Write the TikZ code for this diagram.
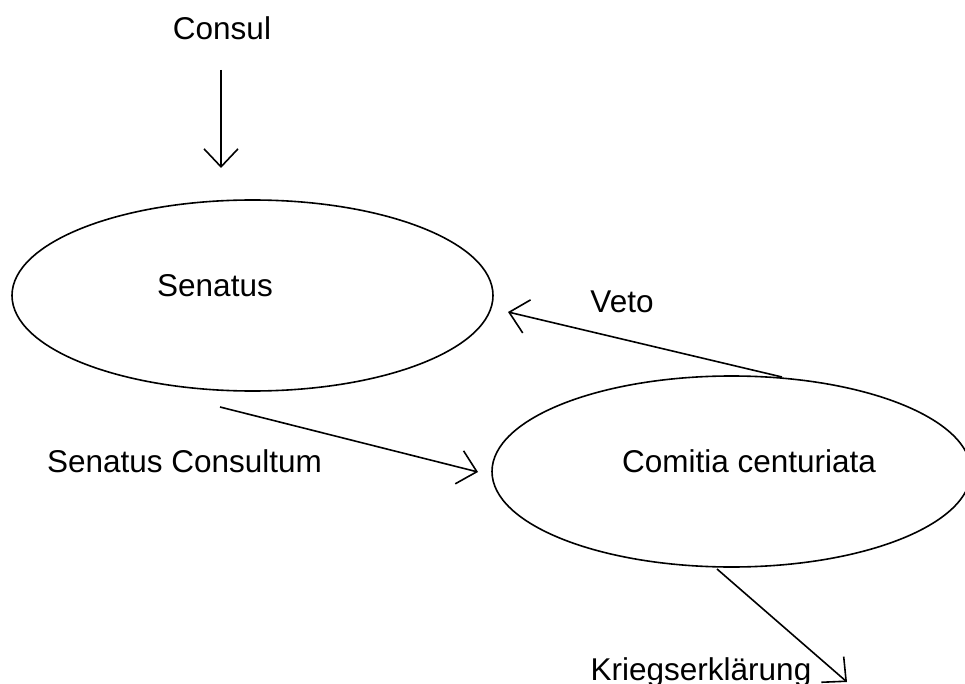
\documentclass[tikz,border=0pt]{standalone}
\usepackage{fontspec}
\setmainfont{Liberation Sans}
\usetikzlibrary{arrows.meta,shapes.geometric}
\begin{document}
\begin{tikzpicture}[x=1pt,y=-1pt,
  line width=1.6pt,
  lbl/.style={anchor=base,inner sep=0pt,font=\fontsize{31.5}{37}\selectfont},
  body/.style={draw,ellipse,inner sep=0pt},
  flow/.style={-{Straight Barb[length=18pt,width=34pt]}}]
\useasboundingbox (0,0) rectangle (965,684);

% bodies of the constitution
\node[body,minimum width=481pt,minimum height=191pt] (senatus) at (252.5,295.5) {};
\node[body,minimum width=479pt,minimum height=191pt] (comitia) at (731.5,471.5) {};

% labels
\node[lbl] (tconsul) at (222,40) {Consul};
\node[lbl] (tsenatus) at (215,296) {Senatus};
\node[lbl] (tveto) at (622,312) {Veto};
\node[lbl] (tsc) at (184.5,472) {Senatus Consultum};
\node[lbl] (tcomitia) at (749,472) {Comitia centuriata};
\node[lbl] (tkrieg) at (701,680) {Kriegserklärung};

% connector end points
\coordinate (c1) at (221,70);
\coordinate (c2) at (221,168);
\coordinate (v1) at (782,377);
\coordinate (v2) at (508,312);
\coordinate (s1) at (220,407);
\coordinate (s2) at (478,472);
\coordinate (k1) at (717,569);
\coordinate (k2) at (847,682);

\draw[flow] (c1) -- (c2);
\draw[flow] (v1) -- (v2);
\draw[flow] (s1) -- (s2);
\draw[flow] (k1) -- (k2);
\end{tikzpicture}
\end{document}
